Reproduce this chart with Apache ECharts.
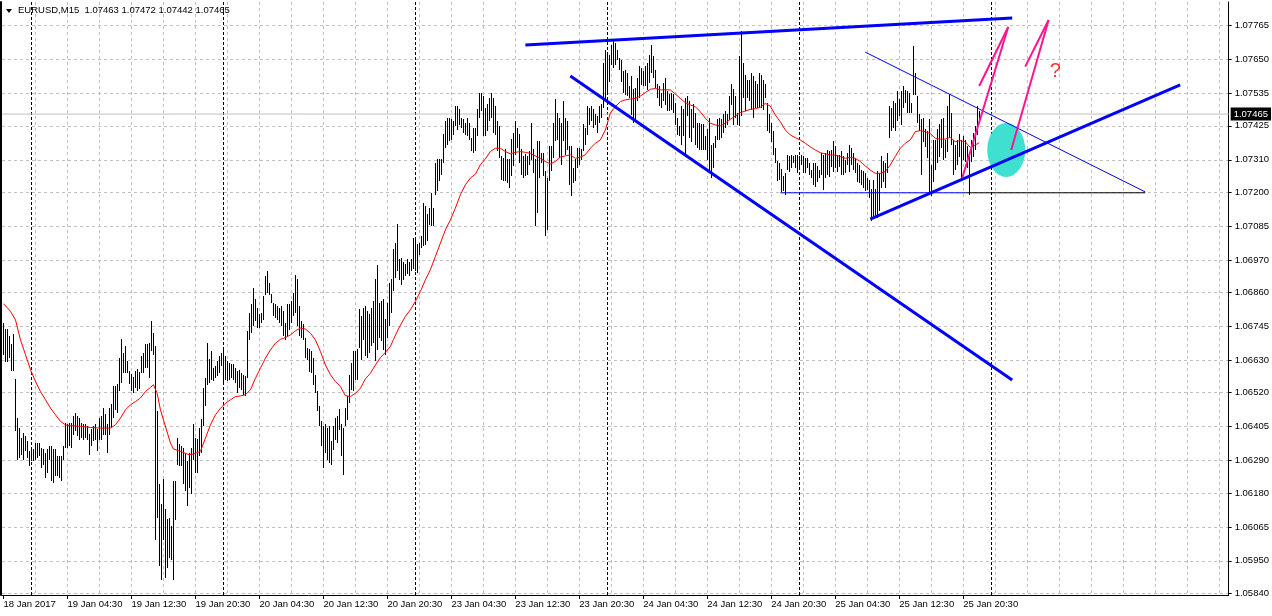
<!DOCTYPE html>
<html><head><meta charset="utf-8">
<script src="https://cdn.jsdelivr.net/npm/echarts@6/dist/echarts.min.js"></script>
<style>html,body{margin:0;padding:0;background:#fff}#c{width:1272px;height:616px}</style>
</head><body><div id="c"></div>
<script>
// ---------- data ----------
const headerText = 'EURUSD,M15  1.07463 1.07472 1.07442 1.07465';
const lastPrice = 1.07465;
const xTickIdx = [0,32,64,96,128,160,192,224,256,288,320,352,384,416,448,480];
const xTickLabels = ['18 Jan 2017','19 Jan 04:30','19 Jan 12:30','19 Jan 20:30','20 Jan 04:30','20 Jan 12:30','20 Jan 20:30','23 Jan 04:30','23 Jan 12:30','23 Jan 20:30','24 Jan 04:30','24 Jan 12:30','24 Jan 20:30','25 Jan 04:30','25 Jan 12:30','25 Jan 20:30'];
const xGridIdx = [16,32,48,64,80,96,112,128,144,160,176,192,208,224,240,256,272,288,304,320,336,352,368,384,400,416,432,448,464,480,496,512,528,544,560,576,592,608];
const daySepIdx = [14,110,206,302,398,494];
const yTicks = [1.07765,1.07650,1.07535,1.07425,1.07310,1.07200,1.07085,1.06970,1.06860,1.06745,1.06630,1.06520,1.06405,1.06290,1.06180,1.06065,1.05950,1.05840];

// bar highs / lows in points (1e-5)
const highs = [
106756,106733,106736,106711,106683,106716,106564,106434,106400,106366,106383,106372,106355,106321,106327,106327,106349,106349,106349,106332,
106327,106315,106327,106338,106338,106327,106327,106304,106304,106304,106338,106417,106411,106417,106417,106440,106451,106440,106434,106417,
106411,106411,106406,106377,106394,106406,106411,106394,106434,106440,106468,106445,106411,106468,106479,106541,106541,106547,106637,106699,
106654,106677,106626,106592,106581,106570,106592,106598,106587,106643,106654,106683,106683,106688,106762,106722,106677,106457,106208,106140,
106225,106123,106089,106095,106067,106219,106219,106366,106344,106338,106332,106315,106287,106315,106332,106411,106366,106360,106400,106428,
106535,106569,106688,106631,106660,106603,106609,106626,106643,106654,106665,106643,106626,106620,106614,106614,106603,106592,106597,106586,
106580,106575,106727,106790,106818,106874,106835,106806,106784,106790,106846,106914,106931,106891,106852,106823,106818,106812,106806,106812,
106795,106756,106818,106818,106829,106857,106919,106903,106812,106761,106750,106705,106671,106665,106660,106637,106580,106524,106473,106422,
106405,106411,106400,106405,106354,106405,106434,106439,106462,106411,106400,106467,106507,106580,106620,106660,106660,106665,106801,106778,
106806,106812,106795,106784,106806,106829,106903,106953,106823,106829,106835,106767,106823,106891,106903,107005,107027,107089,106971,106976,
106960,106954,106971,106960,106971,107044,107039,107022,107027,107050,107163,107152,107123,107146,107197,107146,107298,107310,107310,107310,
107395,107440,107451,107451,107445,107440,107491,107491,107479,107451,107445,107434,107451,107434,107383,107417,107417,107479,107536,107536,
107524,107485,107496,107519,107536,107519,107491,107440,107423,107321,107315,107344,107310,107310,107378,107400,107440,107417,107395,107344,
107321,107327,107321,107338,107434,107344,107310,107372,107372,107332,107332,107270,107248,107355,107355,107434,107513,107468,107451,107434,
107508,107451,107440,107355,107355,107282,107310,107349,107349,107344,107428,107417,107491,107485,107490,107479,107462,107456,107490,107496,
107637,107682,107671,107665,107699,107716,107705,107682,107654,107648,107609,107614,107603,107558,107592,107547,107552,107586,107626,107620,
107609,107626,107637,107665,107699,107660,107614,107564,107558,107535,107569,107586,107541,107530,107535,107530,107501,107451,107422,107490,
107479,107518,107524,107507,107479,107496,107468,107434,107434,107428,107428,107388,107411,107450,107360,107366,107388,107445,107450,107445,
107462,107473,107462,107524,107564,107547,107524,107468,107660,107744,107637,107597,107580,107580,107603,107592,107575,107564,107603,107597,
107580,107564,107501,107462,107434,107405,107349,107304,107298,107278,107253,107264,107326,107321,107326,107321,107326,107326,107321,107326,
107321,107315,107315,107298,107275,107298,107298,107287,107275,107332,107326,107332,107343,107337,107343,107371,107354,107326,107326,107337,
107321,107309,107332,107360,107349,107332,107315,107298,107292,107275,107270,107264,107247,107241,107208,107241,107208,107270,107264,107321,
107304,107298,107332,107490,107484,107507,107501,107541,107513,107541,107558,107546,107541,107535,107501,107693,107603,107524,107462,107445,
107450,107411,107405,107445,107292,107377,107377,107411,107428,107445,107450,107377,107490,107530,107467,107377,107360,107377,107394,107377,
107388,107377,107354,107326,107377,107400,107422,107490,107472
];
const lows = [
106654,106629,106629,106643,106598,106598,106394,106298,106304,106315,106298,106327,106304,106276,106293,106293,106298,106304,106310,106270,
106281,106236,106253,106298,106225,106219,106242,106242,106236,106225,106298,106338,106338,106344,106338,106383,106394,106377,106366,106372,
106366,106372,106366,106315,106344,106360,106366,106327,106366,106366,106383,106383,106321,106383,106406,106440,106468,106457,106530,106558,
106592,106592,106592,106553,106530,106524,106541,106530,106536,106592,106592,106609,106609,106575,106666,106654,106027,106101,105937,105891,
106027,105897,105931,105965,105959,105891,106095,106281,106276,106276,106214,106191,106140,106202,106180,106298,106253,106253,106309,106321,
106411,106479,106552,106558,106569,106564,106575,106581,106592,106614,106558,106569,106564,106569,106575,106569,106558,106524,106541,106535,
106518,106513,106575,106705,106727,106750,106767,106744,106744,106761,106773,106857,106863,106857,106829,106784,106778,106773,106761,106750,
106716,106705,106716,106739,106761,106784,106795,106750,106716,106710,106705,106643,106637,106597,106592,106552,106524,106462,106411,106343,
106270,106321,106298,106287,106281,106332,106366,106355,106400,106309,106247,106411,106434,106490,106535,106530,106569,106569,106676,106637,
106705,106648,106643,106660,106682,106693,106631,106671,106710,106699,106671,106654,106710,106750,106796,106869,106914,106937,106909,106892,
106909,106920,106926,106920,106937,106943,106937,106931,106993,107016,107022,107027,107039,107095,107089,107089,107197,107208,107242,107265,
107304,107355,107366,107378,107383,107400,107428,107417,107434,107423,107406,107400,107395,107383,107344,107338,107344,107395,107457,107479,
107395,107395,107412,107445,107457,107406,107400,107344,107321,107248,107242,107242,107236,107219,107259,107293,107332,107355,107304,107265,
107253,107259,107265,107298,107315,107270,107089,107135,107253,107304,107259,107056,107078,107242,107276,107321,107378,107383,107321,107298,
107378,107332,107349,107231,107191,107236,107242,107287,107298,107315,107344,107366,107400,107434,107445,107422,107434,107405,107439,107456,
107490,107518,107535,107580,107637,107626,107637,107654,107620,107580,107541,107535,107530,107524,107468,107439,107445,107513,107524,107569,
107564,107564,107552,107575,107609,107592,107558,107524,107496,107490,107513,107501,107479,107479,107484,107473,107434,107400,107394,107366,
107394,107332,107462,107388,107377,107422,107366,107355,107349,107349,107349,107349,107315,107275,107253,107287,107355,107383,107383,107388,
107405,107422,107434,107450,107501,107434,107456,107434,107428,107462,107524,107479,107524,107513,107484,107456,107490,107490,107490,107490,
107484,107524,107411,107405,107377,107332,107304,107242,107247,107205,107208,107196,107281,107275,107287,107304,107287,107270,107287,107298,
107270,107270,107287,107264,107253,107230,107224,107241,107253,107264,107213,107253,107264,107258,107292,107275,107287,107275,107292,107264,
107264,107270,107298,107275,107298,107281,107270,107241,107236,107230,107219,107208,107213,107185,107106,107123,107123,107117,107140,107219,
107241,107219,107270,107388,107411,107422,107411,107445,107462,107433,107490,107507,107473,107473,107473,107535,107535,107439,107411,107264,
107377,107360,107321,107196,107191,107241,107281,107304,107326,107354,107315,107320,107343,107388,107366,107264,107281,107298,107326,107247,
107315,107309,107287,107196,107309,107326,107349,107400,107442
];

// moving average (red), sampled along the bars: bar index / value in points
const maIdx = [0,3.5,6,8.5,11,13.5,16,18.5,21,23.5,26,28.5,31,33.5,38.5,43.5,48.5,53.5,56,58.5,61,63.5,66,68.5,71,73.5,75,76.8,78.5,80,82,83.5,85,87.7,90,92.7,95,98.5,101,103.5,106,108.5,111,113.5,116,118.5,121,123.5,126,128.5,131,133.5,136,138.5,141,143.5,146,148.5,151,153.5,156,158.5,161,163.5,166,168.5,171,173.5,176,178.5,181,183.5,186,188.5,191,193.5,195,197.7,201,203.5,206,208.5,211,213.5,216,218.5,221,223.5,226,228.5,231,233.5,236,238.5,241,243.5,246,248.5,251,253.5,256,258.5,261,263.5,266,268.5,271,273.5,276,278.5,281,283.5,286,288.5,291,293.5,296,298.5,301,303.5,306,308.5,311,313.5,316,318.5,321,323.5,326,328.5,331,333.5,336,338.5,341,343.5,346,348.5,351,353.5,356,358.5,361,363.5,366,368.5,371,373.5,376,378.5,381,383.5,386,388.5,391,393.5,396,398.5,401,403.5,406,408.5,411,413.5,416,418.5,421,423.5,426,428.5,431,433.5,436,438.5,441,443.5,446,448.5,451,453.5,456,458.5,461,463.5,466,468.5,471,473.5,476,478.5,481,483.5,486,488];
const maVal = [106822,106796,106767,106699,106649,106598,106558,106524,106496,106468,106445,106423,106411,106408,106406,106402,106400,106400,106411,106434,106462,106479,106490,106502,106524,106538,106547,106519,106462,106428,106383,106349,106329,106323,106317,106310,106312,106321,106366,106411,106445,106467,106484,106496,106507,106509,106513,106530,106569,106603,106637,106665,106688,106701,106707,106716,106730,106739,106736,106722,106699,106660,106614,106581,106558,106541,106510,106507,106518,106535,106567,106586,106614,106639,106657,106677,106700,106739,106779,106801,106830,106863,106903,106937,106982,107027,107072,107106,107146,107191,107225,107248,107261,107293,107313,107338,107349,107349,107338,107330,107335,107338,107335,107332,107323,107315,107304,107296,107304,107319,107323,107327,107315,107319,107327,107349,107366,107377,107411,107468,107490,107507,107513,107516,107518,107526,107538,107549,107552,107547,107547,107547,107533,107518,107504,107496,107490,107473,107451,107434,107428,107425,107434,107447,107458,107470,107475,107481,107483,107488,107501,107492,107462,107439,107411,107394,107385,107377,107366,107354,107343,107334,107330,107326,107326,107321,107315,107318,107315,107304,107289,107275,107264,107264,107270,107292,107321,107349,107366,107377,107405,107409,107405,107399,107383,107380,107380,107386,107371,107375,107371,107352,107360,107368];

// hand-drawn objects: [bar index, price in points]
const lineTopThick   = [[261,107699],[504.5,107791]];
const lineDownThick  = [[283.5,107594],[504.5,106563]];
const lineDownThin   = [[431,107675],[571,107201]];
const lineFlatBlue   = [[388.5,107198],[481,107198]];
const lineFlatBlack  = [[481,107198],[571,107198]];
const lineUpThick    = [[433.5,107109],[588.5,107564]];
const pinkStroke1    = [[479.5,107248],[502.5,107760]];
const pinkStroke2    = [[488,107560],[502.5,107760]];
const pinkStroke3    = [[504,107343],[522.7,107784]];
const pinkStroke4    = [[511,107626],[522.7,107784]];
const cyanBlob       = [[501.5,107343]];
const questionMark   = [[526,107608]];

// ---------- chart ----------
const P = v => v / 1e5;
const pts = arr => arr.map(p => [p[0], P(p[1])]);
const chart = echarts.init(document.getElementById('c'), null, {renderer: 'canvas'});
const FONT = 'Liberation Sans';
const X_MIN = -0.75, X_MAX = 612.75, Y_MIN = 1.05834, Y_MAX = 1.07845;

const barData = highs.map((h, i) => [i, P(h), P(lows[i])]);

function lineSeries(data, color, width, z) {
  return {type: 'line', data: pts(data), showSymbol: false, symbol: 'none', silent: true,
    lineStyle: {color: color, width: width}, z: z, animation: false};
}

const option = {
  animation: false,
  backgroundColor: '#ffffff',
  grid: {left: 2, right: 43, top: 2, bottom: 21, containLabel: false},
  graphic: [
    {type: 'polygon', shape: {points: [[6, 9], [12, 9], [9, 13]]}, style: {fill: '#000'}, z: 100},
    {type: 'text', left: 18, top: 5, style: {text: headerText, font: '9.5px "' + FONT + '"', fill: '#000'}, z: 100}
  ],
  xAxis: [
    {type: 'value', min: X_MIN, max: X_MAX, position: 'bottom',
      axisLine: {show: true, onZero: false, lineStyle: {color: '#000', width: 1}},
      axisTick: {show: true, customValues: xTickIdx, length: 4, lineStyle: {color: '#000'}},
      axisLabel: {show: true, customValues: xTickIdx, align: 'left', margin: 4, fontSize: 9.5, fontFamily: FONT, color: '#000',
        formatter: v => { const k = xTickIdx.indexOf(Math.round(v)); return k >= 0 ? xTickLabels[k] : ''; }},
      splitLine: {show: false}},
    {type: 'value', min: X_MIN, max: X_MAX, position: 'bottom',
      axisLine: {show: false}, axisLabel: {show: false},
      axisTick: {show: false, customValues: xGridIdx},
      splitLine: {show: true, lineStyle: {color: '#c0c0c0', type: [3, 3], width: 1}}},
    {type: 'value', min: X_MIN, max: X_MAX, position: 'bottom',
      axisLine: {show: false}, axisLabel: {show: false},
      axisTick: {show: false, customValues: daySepIdx},
      splitLine: {show: true, lineStyle: {color: '#000', type: [3, 2], width: 1}}}
  ],
  yAxis: [
    {type: 'value', min: Y_MIN, max: Y_MAX, position: 'right', scale: true,
      axisLine: {show: true, onZero: false, lineStyle: {color: '#000', width: 1}},
      axisTick: {show: true, customValues: yTicks, length: 3, lineStyle: {color: '#000'}},
      axisLabel: {show: true, customValues: yTicks, margin: 6, fontSize: 9.5, fontFamily: FONT, color: '#000',
        formatter: v => v.toFixed(5)},
      splitLine: {show: true, lineStyle: {color: '#c0c0c0', type: [3, 3], width: 1}}},
    {type: 'value', min: Y_MIN, max: Y_MAX, position: 'left', offset: 1, scale: true,
      axisLine: {show: true, onZero: false, lineStyle: {color: '#000', width: 2}},
      axisTick: {show: false}, axisLabel: {show: false}, splitLine: {show: false}}
  ],
  series: [
    // current price line across the whole chart, with its price box on the axis
    {type: 'line', data: [[X_MIN, lastPrice], [X_MAX, lastPrice]], xAxisIndex: 0, yAxisIndex: 0, z: 1, silent: true,
      showSymbol: false, symbol: 'none', clip: false,
      lineStyle: {color: '#c0c0c0', type: 'solid', width: 1},
      endLabel: {show: true, distance: 2, formatter: () => lastPrice.toFixed(5),
        backgroundColor: '#000', color: '#fff', padding: [2, 3, 1, 3], fontSize: 9.5, fontFamily: FONT}},
    // OHLC bars (high-low)
    {type: 'custom', data: barData, encode: {x: 0, y: [1, 2]}, z: 3, silent: true,
      renderItem: function (params, api) {
        const i = api.value(0);
        const a = api.coord([i, api.value(1)]);
        const b = api.coord([i, api.value(2)]);
        const x = Math.floor(a[0]) + 0.5;
        return {type: 'line', shape: {x1: x, y1: Math.floor(a[1]), x2: x, y2: Math.ceil(b[1]) + 1},
          style: {stroke: '#000', lineWidth: 1}};
      }},
    // moving average
    {type: 'line', data: maIdx.map((x, k) => [x, P(maVal[k])]), showSymbol: false, symbol: 'none', silent: true,
      lineStyle: {color: '#ff0000', width: 1}, z: 4},
    // cyan blob
    {type: 'scatter', data: pts(cyanBlob), symbol: 'circle', symbolSize: [38, 54], silent: true,
      itemStyle: {color: '#40e0d0', opacity: 1}, z: 5},
    lineSeries(lineTopThick, '#0000ff', 3, 6),
    lineSeries(lineDownThick, '#0000ff', 3, 6),
    lineSeries(lineDownThin, '#0000ff', 1, 6),
    lineSeries(lineFlatBlue, '#0000ff', 1, 6),
    lineSeries(lineFlatBlack, '#000000', 1, 6),
    lineSeries(lineUpThick, '#0000ff', 3, 7),
    lineSeries(pinkStroke1, '#ff1493', 2, 8),
    lineSeries(pinkStroke2, '#ff1493', 2, 8),
    lineSeries(pinkStroke3, '#ff1493', 2, 8),
    lineSeries(pinkStroke4, '#ff1493', 2, 8),
    {type: 'scatter', data: pts(questionMark), symbolSize: 1, silent: true, itemStyle: {color: 'rgba(0,0,0,0)'}, z: 9,
      label: {show: true, position: 'inside', formatter: '?', color: '#ff0000', fontSize: 20, fontFamily: FONT}}
  ]
};
chart.setOption(option);
</script>
</body></html>
